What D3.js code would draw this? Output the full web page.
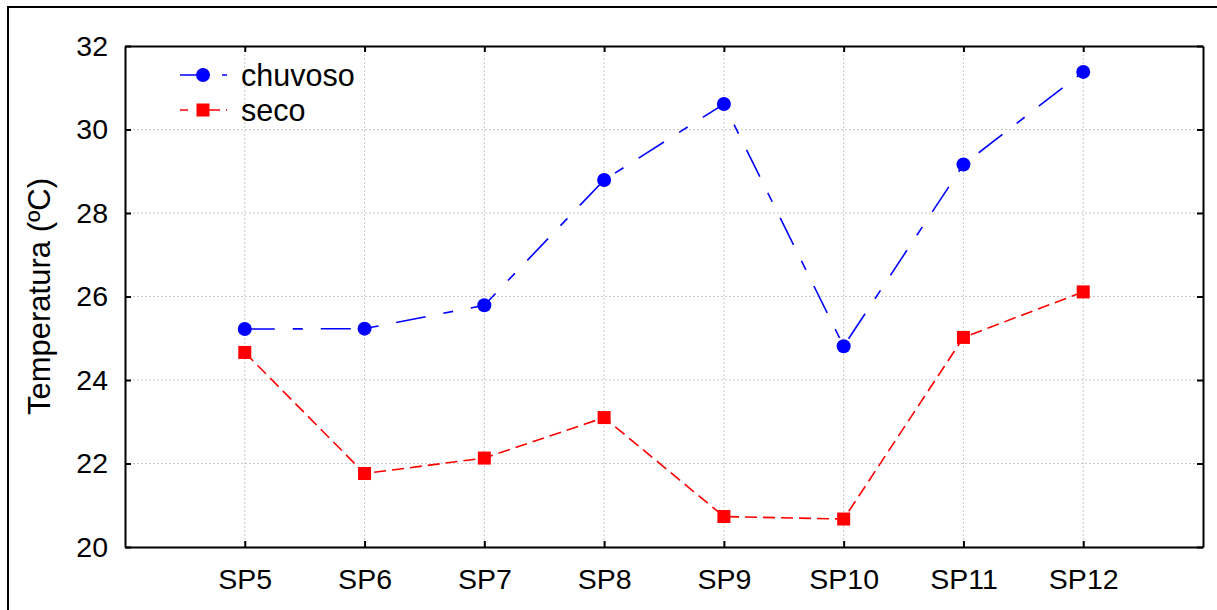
<!DOCTYPE html>
<html>
<head>
<meta charset="utf-8">
<script src="https://cdn.jsdelivr.net/npm/d3@7"></script>
<style>
  html, body { margin: 0; padding: 0; background: #fff; }
  svg { display: block; font-family: "Liberation Sans", Arial, sans-serif; }
</style>
</head>
<body>
<div id="chart"></div>
<script>
// values
const categories = ['SP5', 'SP6', 'SP7', 'SP8', 'SP9', 'SP10', 'SP11', 'SP12'];
const chuvoso = [25.22, 25.23, 25.79, 28.79, 30.61, 24.81, 29.16, 31.38];
const seco = [24.66, 21.76, 22.13, 23.10, 20.73, 20.67, 25.02, 26.11];
const yTicks = [20, 22, 24, 26, 28, 30, 32];
const seriesNames = ['chuvoso', 'seco'];

const width = 1217, height = 610;
const margin = { top: 46, right: 14, bottom: 63, left: 125 };
const plotW = width - margin.left - margin.right;
const plotH = height - margin.top - margin.bottom;

const svg = d3.select('#chart')
    .append('svg')
    .attr('width', width)
    .attr('height', height);

// outer frame (runs off the right and bottom edges)
svg.append('rect')
    .attr('x', 8).attr('y', 7)
    .attr('width', 1400).attr('height', 800)
    .attr('fill', 'none')
    .attr('stroke', '#000')
    .attr('stroke-width', 2);

const g = svg.append('g').attr('transform', `translate(${margin.left},${margin.top})`);

const x = d3.scalePoint().domain(categories).range([0, plotW]).padding(1);
const y = d3.scaleLinear().domain([20, 32]).range([plotH, 0]);

// grid
const grid = g.append('g').attr('stroke', '#c8c8c8').attr('stroke-width', 1).attr('stroke-dasharray', '2,2');
grid.selectAll('.vg').data(categories).enter().append('line')
    .attr('x1', d => x(d)).attr('x2', d => x(d))
    .attr('y1', 0).attr('y2', plotH);
grid.selectAll('.hg').data(yTicks.slice(1, -1)).enter().append('line')
    .attr('x1', 0).attr('x2', plotW)
    .attr('y1', d => y(d)).attr('y2', d => y(d));

// axes with inward ticks
function styleAxis(sel) {
    sel.select('.domain').attr('stroke', '#000').attr('stroke-width', 2);
    sel.selectAll('.tick line').attr('stroke', '#000').attr('stroke-width', 2);
    sel.selectAll('.tick text').attr('fill', '#000').attr('font-size', 28.5)
        .attr('font-family', '"Liberation Sans", Arial, sans-serif');
}

g.append('g')
    .attr('transform', `translate(0,${plotH})`)
    .call(d3.axisBottom(x).tickSizeInner(-6).tickSizeOuter(0).tickPadding(22))
    .call(styleAxis);

g.append('g')
    .call(d3.axisTop(x).tickSizeInner(-6).tickSizeOuter(0).tickFormat(''))
    .call(styleAxis);

g.append('g')
    .call(d3.axisLeft(y).tickValues(yTicks).tickSizeInner(-6).tickSizeOuter(0).tickPadding(17))
    .call(styleAxis);

g.append('g')
    .attr('transform', `translate(${plotW},0)`)
    .call(d3.axisRight(y).tickValues(yTicks).tickSizeInner(-6).tickSizeOuter(0).tickFormat(''))
    .call(styleAxis);

// axis title
svg.append('text')
    .attr('transform', `translate(50,${margin.top + plotH / 2}) rotate(-90)`)
    .attr('text-anchor', 'middle')
    .attr('font-size', 31)
    .text('Temperatura (ºC)');

// series
const series = [
    { name: seriesNames[0], values: chuvoso, color: '#0000ff', dash: '30,18,10,18', shape: 'circle' },
    { name: seriesNames[1], values: seco, color: '#ff0000', dash: '12,6', shape: 'square' }
];

const line = d3.line()
    .x((d, i) => x(categories[i]))
    .y(d => y(d));

series.forEach(s => {
    g.append('path')
        .datum(s.values)
        .attr('d', line)
        .attr('fill', 'none')
        .attr('stroke', s.color)
        .attr('stroke-width', 1.6)
        .attr('stroke-dasharray', s.dash);

    if (s.shape === 'circle') {
        g.selectAll(null).data(s.values).enter().append('circle')
            .attr('cx', (d, i) => x(categories[i]))
            .attr('cy', d => y(d))
            .attr('r', 7)
            .attr('fill', s.color);
    } else {
        g.selectAll(null).data(s.values).enter().append('rect')
            .attr('x', (d, i) => x(categories[i]) - 6.5)
            .attr('y', d => y(d) - 6.5)
            .attr('width', 13).attr('height', 13)
            .attr('fill', s.color);
    }
});

// legend
const legend = svg.append('g');
series.forEach((s, i) => {
    const ly = 75 + i * 35;
    legend.append('line')
        .attr('x1', 180).attr('x2', 227)
        .attr('y1', ly).attr('y2', ly)
        .attr('stroke', s.color)
        .attr('stroke-width', 1.6)
        .attr('stroke-dasharray', i === 0 ? '30,12,5,12' : '8,12,20,6,20');
    if (s.shape === 'circle') {
        legend.append('circle').attr('cx', 203).attr('cy', ly).attr('r', 7).attr('fill', s.color);
    } else {
        legend.append('rect').attr('x', 196.5).attr('y', ly - 6.5)
            .attr('width', 13).attr('height', 13).attr('fill', s.color);
    }
    legend.append('text')
        .attr('x', 241).attr('y', ly)
        .attr('dy', '0.35em')
        .attr('font-size', 30.5)
        .text(s.name);
});
</script>
</body>
</html>
